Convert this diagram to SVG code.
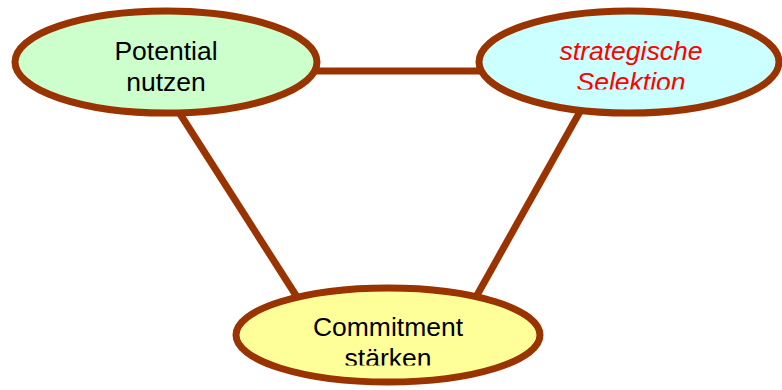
<svg xmlns="http://www.w3.org/2000/svg" width="782" height="390" viewBox="0 0 782 390">
  <style>
    .link { stroke: #993300; stroke-width: 7; fill: none; }
    .node { stroke: #993300; stroke-width: 7; }
    .label { font-family: "Liberation Sans", Arial, sans-serif; font-size: 26.5px; text-anchor: middle; fill: #000000; }
    .em { font-style: italic; fill: #FF0000; }
  </style>
  <defs>
    <clipPath id="clip-potential"><rect x="20" y="30" width="290" height="61"/></clipPath>
    <clipPath id="clip-selektion"><rect x="485" y="30" width="290" height="59.5"/></clipPath>
    <clipPath id="clip-commitment"><rect x="245" y="305" width="290" height="60.5"/></clipPath>
  </defs>
  <rect width="782" height="390" fill="#FFFFFF"/>

  <g id="connectors">
    <line class="link" x1="310" y1="71" x2="485" y2="71"/>
    <line class="link" x1="175" y1="106" x2="297" y2="297"/>
    <line class="link" x1="582" y1="108" x2="476" y2="297"/>
  </g>

  <g id="potential-nutzen">
    <ellipse class="node" cx="166" cy="62" rx="151" ry="51" fill="#CCFFCC"/>
    <g clip-path="url(#clip-potential)">
      <text class="label" x="166" y="60">Potential</text>
      <text class="label" x="166" y="90.5">nutzen</text>
    </g>
  </g>

  <g id="strategische-selektion">
    <ellipse class="node" cx="629" cy="62" rx="150" ry="51" fill="#CCFFFF"/>
    <g clip-path="url(#clip-selektion)">
      <text class="label em" x="631" y="60">strategische</text>
      <text class="label em" x="631" y="90.5">Selektion</text>
    </g>
  </g>

  <g id="commitment-staerken">
    <ellipse class="node" cx="388" cy="335" rx="152" ry="47" fill="#FFFF99"/>
    <g clip-path="url(#clip-commitment)">
      <text class="label" x="388" y="335.5">Commitment</text>
      <text class="label" x="388" y="366.5">stärken</text>
    </g>
  </g>
</svg>
